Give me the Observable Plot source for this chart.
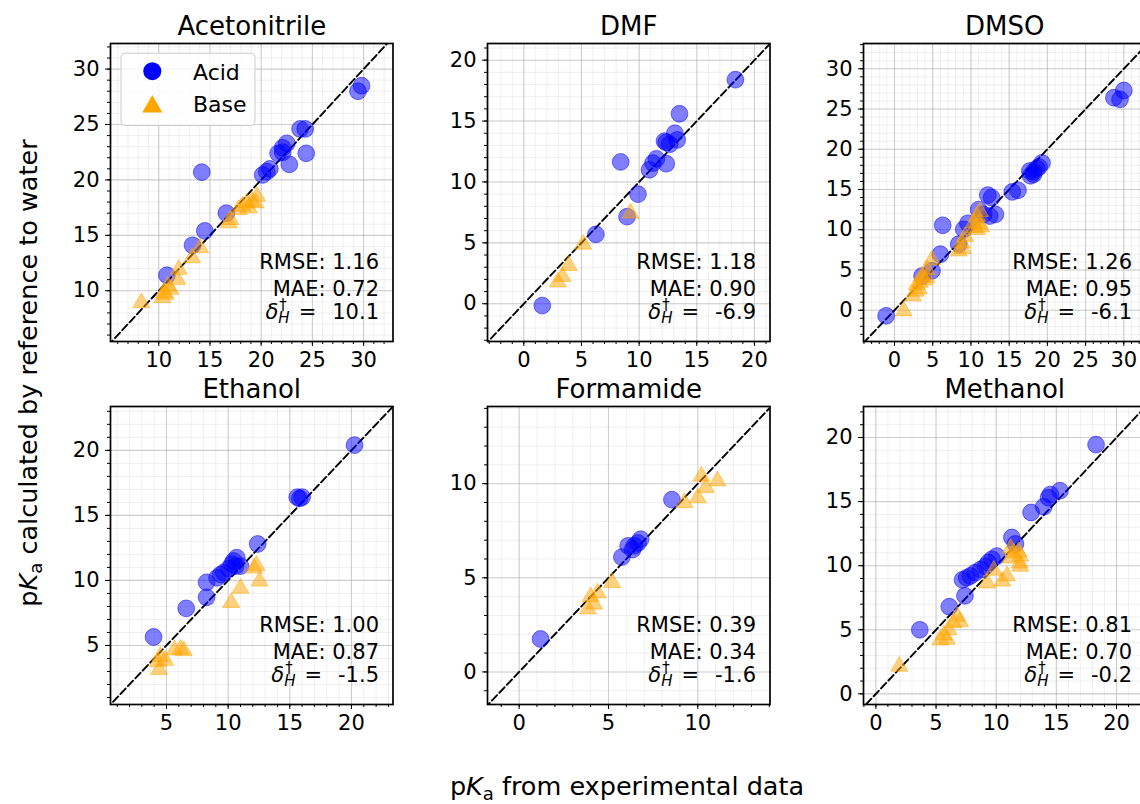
<!DOCTYPE html>
<html><head><meta charset="utf-8">
<script src="https://cdn.jsdelivr.net/npm/d3@7"></script>
<script src="https://cdn.jsdelivr.net/npm/@observablehq/plot@0.6"></script>
<style>
html,body{margin:0;padding:0;background:#fff;}
#fig{position:relative;width:1140px;height:804px;overflow:hidden;font-family:"DejaVu Sans",sans-serif;}
.panel{position:absolute;}
</style></head><body><div id="fig"></div>
<script>
// ---------- data ----------
const solvents = ["Acetonitrile", "DMF", "DMSO", "Ethanol", "Formamide", "Methanol"];

const acetonitrileAcid = [[29.8,28.5],[29.45,28.0],[23.8,24.6],[24.3,24.6],[24.4,22.4],[22.75,21.4],[22.5,23.3],[22.1,22.9],[21.65,22.4],[22.1,22.5],[20.85,21.0],[20.55,20.75],[20.15,20.45],[14.2,20.7],[16.6,17.0],[14.5,15.4],[13.3,14.1],[10.8,11.4]];
const acetonitrileBase = [[8.3,9.1],[10.35,9.55],[10.7,9.85],[11.15,10.3],[10.5,10.0],[10.9,10.6],[11.8,11.2],[11.95,12.1],[13.25,13.15],[14.05,14.05],[16.85,16.3],[17.0,16.6],[17.8,17.5],[18.15,17.8],[18.6,18.1],[19.1,18.25],[19.6,18.7],[18.8,17.65],[19.45,18.1]];

const dmfAcid = [[18.35,18.4],[13.5,15.6],[13.1,14.0],[13.3,13.45],[12.2,13.35],[12.65,13.1],[12.35,13.25],[8.4,11.65],[11.5,11.9],[11.2,11.55],[10.9,11.0],[12.35,11.5],[9.9,9.0],[8.95,7.15],[6.25,5.7],[1.6,-0.15]];
const dmfBase = [[9.25,7.6],[5.15,5.05],[3.9,3.3],[3.35,2.4],[2.95,1.95]];

const dmsoAcid = [[30.0,27.3],[29.5,26.2],[28.7,26.4],[19.3,18.3],[18.9,17.8],[18.2,17.2],[17.8,16.7],[18.2,16.9],[17.7,17.3],[18.6,17.6],[16.15,14.9],[15.4,14.7],[12.2,14.3],[12.7,14.0],[13.2,11.9],[12.45,11.7],[11.0,12.5],[11.65,11.9],[9.05,10.05],[9.6,10.8],[6.3,10.55],[8.4,8.2],[6.0,6.95],[4.9,4.9],[3.6,4.25],[-1.1,-0.7]];
const dmsoBase = [[11.2,12.5],[10.8,11.9],[10.35,11.1],[10.8,10.25],[11.1,11.0],[10.5,10.5],[11.3,10.6],[9.25,9.4],[8.8,8.6],[8.4,7.6],[8.9,7.9],[4.9,6.5],[4.25,5.3],[3.6,4.5],[3.9,4.0],[3.3,3.7],[2.9,3.4],[2.4,2.0],[2.8,2.6],[3.2,2.9],[1.2,0.15],[4.2,4.3]];

const ethanolAcid = [[20.25,20.4],[15.6,16.4],[16.0,16.4],[15.8,16.3],[12.4,12.8],[10.7,11.75],[10.45,11.5],[10.3,11.25],[11.0,11.1],[10.05,10.9],[9.65,10.6],[9.4,10.45],[9.1,10.2],[10.6,11.1],[8.25,9.85],[8.25,8.7],[6.6,7.85],[3.95,5.65]];
const ethanolBase = [[12.1,11.1],[12.3,11.3],[12.55,10.1],[11.0,9.55],[10.25,8.45],[6.15,4.85],[6.4,4.75],[5.65,4.8],[4.5,4.3],[4.3,3.9],[4.9,4.0],[4.4,3.3]];

const formamideAcid = [[8.55,9.15],[6.8,7.05],[6.65,6.85],[6.45,6.7],[6.1,6.7],[6.35,6.5],[5.75,6.1],[1.2,1.75]];
const formamideBase = [[10.2,10.5],[11.1,10.25],[10.45,9.9],[10.0,9.35],[9.25,9.1],[5.2,4.85],[4.4,4.3],[4.0,4.1],[4.2,3.7],[3.85,3.45]];

const methanolAcid = [[18.3,19.45],[15.3,15.85],[14.5,15.55],[14.35,15.3],[13.95,14.6],[12.9,14.15],[11.3,12.2],[11.6,11.7],[10.05,10.75],[9.65,10.5],[9.35,10.25],[9.1,9.95],[8.7,9.7],[8.25,9.45],[7.85,9.2],[7.55,9.05],[7.2,8.9],[7.4,7.65],[6.1,6.8],[3.65,5.0]];
const methanolBase = [[1.95,2.3],[7.0,5.8],[6.75,6.2],[6.45,5.7],[6.05,5.15],[5.65,4.75],[5.35,4.35],[5.9,4.4],[9.25,8.8],[10.5,8.95],[10.9,9.35],[11.2,11.5],[11.45,11.15],[11.85,11.25],[12.0,10.9],[11.2,10.75],[11.95,10.35],[12.0,10.1],[9.8,9.8]];

const acidSets = [acetonitrileAcid, dmfAcid, dmsoAcid, ethanolAcid, formamideAcid, methanolAcid];
const baseSets = [acetonitrileBase, dmfBase, dmsoBase, ethanolBase, formamideBase, methanolBase];

const rmse = ["1.16", "1.18", "1.26", "1.00", "0.39", "0.81"];
const mae = ["0.72", "0.90", "0.95", "0.87", "0.34", "0.70"];
const deltaH = ["10.1", "-6.9", "-6.1", "-1.5", "-1.6", "-0.2"];

const xDomains = [[5.29,32.87],[-3.15,21.35],[-4.06,32.9],[0.46,23.37],[-1.77,14.04],[-1.03,22.45]];
const yDomains = [[5.42,32.31],[-3.1,21.37],[-3.89,33.14],[0.46,23.37],[-1.73,14.1],[-0.83,22.42]];

const legendLabels = ["Acid", "Base"];
const xLabel = "from experimental data";
const yLabel = "calculated by reference to water";

// ---------- layout ----------
const boxW = 282.5, boxH = 298;
const colLeft = [110, 486.7, 863.3];
const rowTop = [42.5, 405.7];
const M = {l: 60, r: 20, t: 45, b: 40};

function ticksIn(dom, step) {
  const a = [];
  for (let v = Math.ceil(dom[0] / step) * step; v <= dom[1] + 1e-9; v += step) a.push(Math.round(v * 1e6) / 1e6);
  return a;
}

const fig = document.getElementById("fig");

solvents.forEach((name, i) => {
  const col = i % 3, row = Math.floor(i / 3);
  const xd = xDomains[i], yd = yDomains[i];
  const acid = acidSets[i].map(([x, y]) => ({x, y}));
  const base = baseSets[i].map(([x, y]) => ({x, y}));
  const lo = Math.min(xd[0], yd[0]) - 1, hi = Math.max(xd[1], yd[1]) + 1;
  const diag = [{x: lo, y: lo}, {x: hi, y: hi}];
  const majX = ticksIn(xd, 5), majY = ticksIn(yd, 5);
  const minX = ticksIn(xd, 1), minY = ticksIn(yd, 1);

  const svg = Plot.plot({
    width: M.l + boxW + M.r,
    height: M.t + boxH + M.b,
    marginLeft: M.l, marginRight: M.r, marginTop: M.t, marginBottom: M.b,
    x: {domain: xd, label: null},
    y: {domain: yd, label: null},
    style: {fontFamily: "DejaVu Sans", fontSize: "21px", background: "transparent", overflow: "visible", color: "black"},
    marks: [
      Plot.gridX(minX, {stroke: "#b0b0b0", strokeOpacity: 0.22, strokeWidth: 0.9}),
      Plot.gridY(minY, {stroke: "#b0b0b0", strokeOpacity: 0.22, strokeWidth: 0.9}),
      Plot.gridX(majX, {stroke: "#b0b0b0", strokeOpacity: 0.55, strokeWidth: 1.1}),
      Plot.gridY(majY, {stroke: "#b0b0b0", strokeOpacity: 0.55, strokeWidth: 1.1}),
      Plot.line(diag, {x: "x", y: "y", stroke: "black", strokeWidth: 1.9, strokeDasharray: "7.5,3.3", clip: true}),
      Plot.dot(acid, {x: "x", y: "y", r: 8.4, fill: "blue", fillOpacity: 0.5, stroke: "blue", strokeOpacity: 0.5, strokeWidth: 1}),
      Plot.dot(base, {x: "x", y: "y", symbol: "triangle", r: 6.3, dy: 2, fill: "orange", fillOpacity: 0.5, stroke: "orange", strokeOpacity: 0.5, strokeWidth: 1}),
      Plot.frame({stroke: "black", strokeWidth: 1.7}),
      Plot.axisX(minX, {tickSize: 3, tickFormat: () => "", label: null}),
      Plot.axisY(minY, {tickSize: 3, tickFormat: () => "", label: null}),
      Plot.axisX(majX, {tickSize: 5, tickPadding: 6, tickFormat: d => String(d), label: null, fontSize: 21}),
      Plot.axisY(majY, {tickSize: 5, tickPadding: 6, tickFormat: d => String(d), label: null, fontSize: 21}),
      Plot.text([name], {frameAnchor: "top", dy: -9, lineAnchor: "bottom", fontSize: 26}),
      Plot.text(["RMSE: " + rmse[i]], {frameAnchor: "bottom-right", dx: -14, dy: -73, lineAnchor: "bottom", textAnchor: "end", fontSize: 21}),
      Plot.text(["MAE: " + mae[i]], {frameAnchor: "bottom-right", dx: -14, dy: -45.5, lineAnchor: "bottom", textAnchor: "end", fontSize: 21}),
      Plot.text(["δ = " + deltaH[i]], {frameAnchor: "bottom-right", dx: -14, dy: -22.5, lineAnchor: "bottom", textAnchor: "end", fontSize: 21})
    ]
  });

  // build the delta_H^dagger math text
  d3.select(svg).selectAll("text").each(function () {
    const s = this.textContent;
    if (s.startsWith("δ = ")) {
      const val = s.slice(4);
      const t = d3.select(this);
      t.text("");
      t.append("tspan").attr("font-style", "italic").text("δ");
      t.append("tspan").attr("font-size", "15px").attr("dy", "-9").attr("dx", "1").text("†");
      t.append("tspan").attr("font-size", "15px").attr("font-style", "italic").attr("dx", "-8.5").attr("dy", "13").text("H");
      t.append("tspan").attr("dy", "-4").attr("dx", "9").text("=");
      t.append("tspan").attr("dx", "16").text(val);
    }
  });

  // legend in first panel
  if (i === 0) {
    const px = v => v - colLeft[col] + M.l, py = v => v - rowTop[row] + M.t;
    const g = d3.select(svg).append("g").attr("font-family", "DejaVu Sans").attr("font-size", 22).attr("text-anchor", "start");
    g.append("rect").attr("x", px(121)).attr("y", py(52.7)).attr("width", 134).attr("height", 72.3)
      .attr("rx", 4).attr("fill", "white").attr("fill-opacity", 0.8).attr("stroke", "#cccccc").attr("stroke-width", 1);
    g.append("circle").attr("cx", px(152.3)).attr("cy", py(70.7)).attr("r", 9).attr("fill", "blue");
    const tx = px(152.3), ty = py(103.3);
    g.append("path").attr("d", `M${tx},${ty - 8.8}L${tx - 10},${ty + 8.8}L${tx + 10},${ty + 8.8}Z`).attr("fill", "orange");
    g.append("text").attr("x", px(193)).attr("y", py(79)).attr("text-anchor", "start").text(legendLabels[0]);
    g.append("text").attr("x", px(193)).attr("y", py(111)).attr("text-anchor", "start").text(legendLabels[1]);
  }

  const div = document.createElement("div");
  div.className = "panel";
  div.style.left = (colLeft[col] - M.l) + "px";
  div.style.top = (rowTop[row] - M.t) + "px";
  div.style.width = (M.l + boxW + M.r) + "px";
  div.appendChild(svg);
  fig.appendChild(div);
});

// figure-level axis labels
const over = d3.select(fig).append("svg").attr("width", 1140).attr("height", 804)
  .style("position", "absolute").style("left", "0px").style("top", "0px").style("pointer-events", "none")
  .attr("font-family", "DejaVu Sans").attr("font-size", 25.5).attr("fill", "black");

function pKa(sel, rest) {
  sel.append("tspan").text("p");
  sel.append("tspan").attr("font-style", "italic").text("K");
  sel.append("tspan").attr("font-size", "18px").attr("dy", "4.5").text("a");
  sel.append("tspan").attr("dy", "-4.5").text(" " + rest);
}
const xl = over.append("text").attr("x", 627).attr("y", 795).attr("text-anchor", "middle");
pKa(xl, xLabel);
const yl = over.append("text").attr("transform", "translate(37,373) rotate(-90)").attr("text-anchor", "middle");
pKa(yl, yLabel);
</script>
</body></html>
